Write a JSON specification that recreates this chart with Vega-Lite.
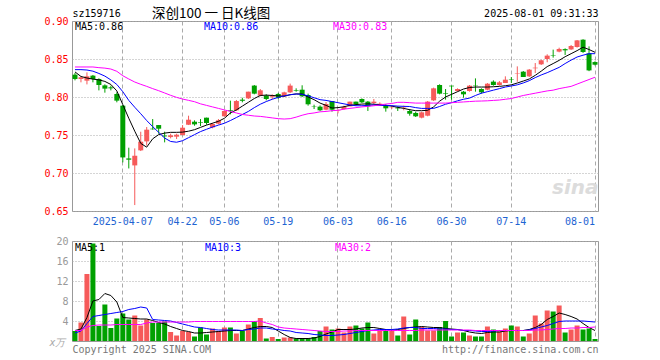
{
"$schema": "https://vega.github.io/schema/vega-lite/v6.json",
"background": "white",
"padding": {"left": 43, "top": 6, "right": 5, "bottom": 5},
"datasets": {"k": [
{"d":"03-25","o":0.8294,"h":0.8316,"l":0.8219,"c":0.8237,"v":2.0,"m5":0.833,"m10":0.836,"m30":0.8395,"v5":2.1,"v10":1.6,"v30":2.1},
{"d":"03-26","o":0.8237,"h":0.8268,"l":0.8193,"c":0.8259,"v":3.7,"m5":0.827,"m10":0.836,"m30":0.8395,"v5":2.4,"v10":2.0,"v30":2.1},
{"d":"03-27","o":0.8215,"h":0.8324,"l":0.8166,"c":0.8272,"v":13.4,"m5":0.825,"m10":0.8355,"m30":0.8395,"v5":4.7,"v10":3.5,"v30":2.8},
{"d":"03-28","o":0.8281,"h":0.829,"l":0.8193,"c":0.8237,"v":19.5,"m5":0.8235,"m10":0.834,"m30":0.8395,"v5":8.0,"v10":4.9,"v30":3.1},
{"d":"03-31","o":0.8237,"h":0.8246,"l":0.8087,"c":0.8158,"v":3.0,"m5":0.8225,"m10":0.831,"m30":0.8386,"v5":8.3,"v10":5.1,"v30":3.2},
{"d":"04-01","o":0.8153,"h":0.8167,"l":0.8057,"c":0.811,"v":7.3,"m5":0.8205,"m10":0.8275,"m30":0.838,"v5":9.5,"v10":5.3,"v30":3.2},
{"d":"04-02","o":0.8127,"h":0.8149,"l":0.8087,"c":0.8114,"v":2.6,"m5":0.8165,"m10":0.8225,"m30":0.8368,"v5":9.1,"v10":5.5,"v30":3.2},
{"d":"04-03","o":0.804,"h":0.8062,"l":0.793,"c":0.7952,"v":4.5,"m5":0.808,"m10":0.8165,"m30":0.8338,"v5":7.8,"v10":5.7,"v30":3.3},
{"d":"04-07","o":0.7886,"h":0.7895,"l":0.714,"c":0.7205,"v":5.5,"m5":0.79,"m10":0.807,"m30":0.828,"v5":4.7,"v10":5.9,"v30":3.3},
{"d":"04-08","o":0.7192,"h":0.7333,"l":0.706,"c":0.7175,"v":4.3,"m5":0.772,"m10":0.7955,"m30":0.8237,"v5":4.6,"v10":6.3,"v30":3.3},
{"d":"04-09","o":0.71,"h":0.7324,"l":0.6578,"c":0.7227,"v":5.1,"m5":0.755,"m10":0.7865,"m30":0.8197,"v5":4.5,"v10":6.5,"v30":3.3},
{"d":"04-10","o":0.7298,"h":0.7543,"l":0.7289,"c":0.7412,"v":3.1,"m5":0.739,"m10":0.778,"m30":0.8167,"v5":4.4,"v10":6.8,"v30":3.3},
{"d":"04-11","o":0.7416,"h":0.7605,"l":0.736,"c":0.757,"v":4.3,"m5":0.734,"m10":0.769,"m30":0.814,"v5":4.4,"v10":6.6,"v30":3.6},
{"d":"04-14","o":0.7583,"h":0.771,"l":0.757,"c":0.7575,"v":3.6,"m5":0.745,"m10":0.761,"m30":0.811,"v5":4.1,"v10":4.3,"v30":3.8},
{"d":"04-15","o":0.7631,"h":0.7631,"l":0.7517,"c":0.7583,"v":3.6,"m5":0.7505,"m10":0.7535,"m30":0.8083,"v5":3.7,"v10":4.2,"v30":3.8},
{"d":"04-16","o":0.7492,"h":0.7544,"l":0.7403,"c":0.7482,"v":3.9,"m5":0.7525,"m10":0.746,"m30":0.8053,"v5":3.4,"v10":4.1,"v30":3.8},
{"d":"04-17","o":0.7473,"h":0.7517,"l":0.7456,"c":0.7495,"v":1.8,"m5":0.7535,"m10":0.7415,"m30":0.8022,"v5":2.9,"v10":4.0,"v30":3.8},
{"d":"04-18","o":0.7478,"h":0.7517,"l":0.7447,"c":0.7504,"v":1.1,"m5":0.7535,"m10":0.7405,"m30":0.7995,"v5":2.5,"v10":3.7,"v30":3.8},
{"d":"04-22","o":0.75,"h":0.7631,"l":0.7495,"c":0.7596,"v":2.0,"m5":0.7538,"m10":0.7425,"m30":0.7973,"v5":2.1,"v10":3.4,"v30":3.8},
{"d":"04-23","o":0.7635,"h":0.7754,"l":0.7631,"c":0.7701,"v":1.8,"m5":0.755,"m10":0.7465,"m30":0.7956,"v5":1.9,"v10":3.1,"v30":3.8},
{"d":"04-24","o":0.7675,"h":0.7693,"l":0.7622,"c":0.764,"v":0.9,"m5":0.757,"m10":0.7505,"m30":0.7938,"v5":1.6,"v10":2.8,"v30":3.9},
{"d":"04-25","o":0.767,"h":0.771,"l":0.7618,"c":0.7662,"v":2.7,"m5":0.76,"m10":0.7545,"m30":0.791,"v5":1.6,"v10":2.7,"v30":3.9},
{"d":"04-28","o":0.7728,"h":0.7728,"l":0.7636,"c":0.7658,"v":1.3,"m5":0.763,"m10":0.7575,"m30":0.789,"v5":1.7,"v10":2.5,"v30":3.9},
{"d":"04-29","o":0.76,"h":0.7658,"l":0.7588,"c":0.7645,"v":2.5,"m5":0.7655,"m10":0.7605,"m30":0.787,"v5":1.8,"v10":2.3,"v30":3.9},
{"d":"04-30","o":0.7649,"h":0.771,"l":0.764,"c":0.7693,"v":2.0,"m5":0.768,"m10":0.763,"m30":0.785,"v5":1.9,"v10":2.2,"v30":3.9},
{"d":"05-06","o":0.7746,"h":0.7825,"l":0.7741,"c":0.7816,"v":2.7,"m5":0.772,"m10":0.7655,"m30":0.783,"v5":2.0,"v10":2.2,"v30":3.9},
{"d":"05-07","o":0.7825,"h":0.7952,"l":0.7772,"c":0.7816,"v":2.7,"m5":0.779,"m10":0.769,"m30":0.781,"v5":2.1,"v10":2.2,"v30":3.9},
{"d":"05-08","o":0.7825,"h":0.7961,"l":0.7816,"c":0.7947,"v":1.5,"m5":0.783,"m10":0.773,"m30":0.779,"v5":2.1,"v10":2.2,"v30":3.9},
{"d":"05-09","o":0.7965,"h":0.799,"l":0.793,"c":0.795,"v":2.0,"m5":0.788,"m10":0.777,"m30":0.777,"v5":2.1,"v10":2.1,"v30":3.9},
{"d":"05-12","o":0.7982,"h":0.807,"l":0.7974,"c":0.807,"v":3.3,"m5":0.793,"m10":0.781,"m30":0.776,"v5":2.4,"v10":2.3,"v30":3.9},
{"d":"05-13","o":0.815,"h":0.8158,"l":0.8035,"c":0.8044,"v":4.0,"m5":0.798,"m10":0.786,"m30":0.775,"v5":2.7,"v10":2.4,"v30":3.9},
{"d":"05-14","o":0.8018,"h":0.8105,"l":0.8009,"c":0.8088,"v":4.6,"m5":0.802,"m10":0.7905,"m30":0.7745,"v5":2.9,"v10":2.6,"v30":4.0},
{"d":"05-15","o":0.8018,"h":0.8035,"l":0.7956,"c":0.7974,"v":0.5,"m5":0.8025,"m10":0.794,"m30":0.7735,"v5":2.9,"v10":2.6,"v30":3.6},
{"d":"05-16","o":0.8,"h":0.8035,"l":0.7974,"c":0.801,"v":0.8,"m5":0.802,"m10":0.797,"m30":0.7725,"v5":2.7,"v10":2.4,"v30":3.3},
{"d":"05-19","o":0.804,"h":0.8053,"l":0.7974,"c":0.799,"v":0.4,"m5":0.8015,"m10":0.7995,"m30":0.7715,"v5":2.0,"v10":2.3,"v30":2.8},
{"d":"05-20","o":0.8009,"h":0.807,"l":0.8,"c":0.8061,"v":0.7,"m5":0.801,"m10":0.8015,"m30":0.771,"v5":1.3,"v10":2.1,"v30":2.6},
{"d":"05-21","o":0.8061,"h":0.8176,"l":0.8053,"c":0.815,"v":0.7,"m5":0.803,"m10":0.803,"m30":0.7715,"v5":0.7,"v10":2.0,"v30":2.5},
{"d":"05-22","o":0.8092,"h":0.8114,"l":0.807,"c":0.8084,"v":0.5,"m5":0.804,"m10":0.804,"m30":0.7735,"v5":0.5,"v10":1.7,"v30":2.4},
{"d":"05-23","o":0.8096,"h":0.8154,"l":0.8,"c":0.8009,"v":0.6,"m5":0.804,"m10":0.8035,"m30":0.776,"v5":0.5,"v10":1.6,"v30":2.3},
{"d":"05-26","o":0.8026,"h":0.8044,"l":0.7886,"c":0.7904,"v":0.5,"m5":0.8,"m10":0.8015,"m30":0.778,"v5":0.5,"v10":1.5,"v30":2.2},
{"d":"05-27","o":0.788,"h":0.7899,"l":0.7842,"c":0.7875,"v":0.8,"m5":0.7965,"m10":0.799,"m30":0.779,"v5":0.6,"v10":1.3,"v30":2.1},
{"d":"05-28","o":0.7873,"h":0.789,"l":0.7816,"c":0.7825,"v":2.0,"m5":0.792,"m10":0.7965,"m30":0.7805,"v5":0.9,"v10":1.2,"v30":2.0},
{"d":"05-29","o":0.7833,"h":0.7934,"l":0.7825,"c":0.7908,"v":2.9,"m5":0.789,"m10":0.7955,"m30":0.781,"v5":1.4,"v10":1.1,"v30":1.9},
{"d":"05-30","o":0.7947,"h":0.7947,"l":0.7807,"c":0.7833,"v":2.3,"m5":0.7855,"m10":0.794,"m30":0.782,"v5":1.8,"v10":1.1,"v30":1.9},
{"d":"06-03","o":0.782,"h":0.7838,"l":0.7785,"c":0.7825,"v":2.5,"m5":0.786,"m10":0.7925,"m30":0.7825,"v5":2.3,"v10":1.2,"v30":1.9},
{"d":"06-04","o":0.7842,"h":0.7886,"l":0.7833,"c":0.7868,"v":1.7,"m5":0.7872,"m10":0.791,"m30":0.784,"v5":2.3,"v10":1.3,"v30":2.0},
{"d":"06-05","o":0.7877,"h":0.7939,"l":0.7877,"c":0.7939,"v":2.9,"m5":0.789,"m10":0.7895,"m30":0.785,"v5":2.3,"v10":1.5,"v30":2.0},
{"d":"06-06","o":0.7939,"h":0.7939,"l":0.7886,"c":0.7904,"v":3.1,"m5":0.79,"m10":0.7885,"m30":0.786,"v5":2.4,"v10":1.7,"v30":2.1},
{"d":"06-09","o":0.7974,"h":0.7982,"l":0.7921,"c":0.793,"v":2.5,"m5":0.7907,"m10":0.7885,"m30":0.787,"v5":2.6,"v10":1.9,"v30":2.1},
{"d":"06-10","o":0.7939,"h":0.7947,"l":0.7816,"c":0.7877,"v":3.7,"m5":0.791,"m10":0.789,"m30":0.7877,"v5":2.7,"v10":2.1,"v30":2.1},
{"d":"06-11","o":0.7921,"h":0.7974,"l":0.7904,"c":0.7939,"v":1.5,"m5":0.7905,"m10":0.7895,"m30":0.7885,"v5":2.7,"v10":2.2,"v30":2.1},
{"d":"06-12","o":0.7895,"h":0.793,"l":0.7886,"c":0.7912,"v":2.1,"m5":0.79,"m10":0.789,"m30":0.7895,"v5":2.5,"v10":2.3,"v30":2.1},
{"d":"06-13","o":0.7886,"h":0.7904,"l":0.7807,"c":0.7851,"v":2.4,"m5":0.789,"m10":0.789,"m30":0.7907,"v5":2.3,"v10":2.3,"v30":2.1},
{"d":"06-16","o":0.7855,"h":0.7868,"l":0.7842,"c":0.786,"v":2.3,"m5":0.788,"m10":0.7886,"m30":0.7915,"v5":2.1,"v10":2.3,"v30":2.1},
{"d":"06-17","o":0.786,"h":0.7877,"l":0.7816,"c":0.785,"v":1.1,"m5":0.7864,"m10":0.788,"m30":0.793,"v5":2.3,"v10":2.4,"v30":2.1},
{"d":"06-18","o":0.7855,"h":0.7886,"l":0.7825,"c":0.786,"v":4.9,"m5":0.785,"m10":0.7877,"m30":0.793,"v5":2.5,"v10":2.6,"v30":2.1},
{"d":"06-19","o":0.7816,"h":0.7842,"l":0.7754,"c":0.778,"v":1.3,"m5":0.7833,"m10":0.7875,"m30":0.7925,"v5":2.7,"v10":2.7,"v30":2.1},
{"d":"06-20","o":0.779,"h":0.7807,"l":0.7737,"c":0.7746,"v":4.3,"m5":0.782,"m10":0.786,"m30":0.792,"v5":2.8,"v10":2.7,"v30":2.1},
{"d":"06-23","o":0.7728,"h":0.7807,"l":0.7719,"c":0.7798,"v":2.8,"m5":0.782,"m10":0.785,"m30":0.792,"v5":2.9,"v10":2.5,"v30":2.2},
{"d":"06-24","o":0.7754,"h":0.7947,"l":0.7746,"c":0.7939,"v":2.1,"m5":0.7825,"m10":0.785,"m30":0.792,"v5":2.8,"v10":2.5,"v30":2.2},
{"d":"06-25","o":0.7956,"h":0.8123,"l":0.7947,"c":0.8114,"v":2.1,"m5":0.787,"m10":0.785,"m30":0.792,"v5":2.7,"v10":2.5,"v30":2.2},
{"d":"06-26","o":0.8158,"h":0.8167,"l":0.8035,"c":0.8044,"v":2.8,"m5":0.7945,"m10":0.7875,"m30":0.792,"v5":2.7,"v10":2.4,"v30":2.2},
{"d":"06-27","o":0.8048,"h":0.8105,"l":0.7965,"c":0.804,"v":4.0,"m5":0.8,"m10":0.7905,"m30":0.792,"v5":2.5,"v10":2.4,"v30":2.2},
{"d":"06-30","o":0.8149,"h":0.8149,"l":0.7965,"c":0.814,"v":0.9,"m5":0.8035,"m10":0.7925,"m30":0.7925,"v5":2.4,"v10":2.3,"v30":2.2},
{"d":"07-01","o":0.8079,"h":0.8114,"l":0.807,"c":0.8105,"v":1.7,"m5":0.807,"m10":0.795,"m30":0.793,"v5":2.3,"v10":2.3,"v30":2.2},
{"d":"07-02","o":0.807,"h":0.8079,"l":0.7991,"c":0.8035,"v":1.7,"m5":0.8105,"m10":0.797,"m30":0.7935,"v5":2.1,"v10":2.1,"v30":2.2},
{"d":"07-03","o":0.8079,"h":0.8158,"l":0.807,"c":0.8149,"v":1.1,"m5":0.8125,"m10":0.7985,"m30":0.794,"v5":1.8,"v10":2.1,"v30":2.2},
{"d":"07-04","o":0.815,"h":0.8245,"l":0.807,"c":0.8145,"v":0.9,"m5":0.8131,"m10":0.802,"m30":0.7945,"v5":1.6,"v10":2.0,"v30":2.1},
{"d":"07-07","o":0.8105,"h":0.8114,"l":0.8044,"c":0.8061,"v":0.9,"m5":0.8131,"m10":0.805,"m30":0.7947,"v5":1.5,"v10":1.9,"v30":2.1},
{"d":"07-08","o":0.8096,"h":0.8184,"l":0.8088,"c":0.8175,"v":2.9,"m5":0.8131,"m10":0.807,"m30":0.795,"v5":1.7,"v10":1.9,"v30":2.1},
{"d":"07-09","o":0.8202,"h":0.8219,"l":0.8149,"c":0.8158,"v":2.3,"m5":0.8135,"m10":0.809,"m30":0.7955,"v5":1.8,"v10":2.0,"v30":2.1},
{"d":"07-10","o":0.8158,"h":0.821,"l":0.8149,"c":0.8193,"v":1.9,"m5":0.814,"m10":0.811,"m30":0.796,"v5":1.8,"v10":2.1,"v30":2.1},
{"d":"07-11","o":0.8184,"h":0.8272,"l":0.8184,"c":0.8228,"v":2.5,"m5":0.8148,"m10":0.8131,"m30":0.797,"v5":2.0,"v10":2.1,"v30":2.1},
{"d":"07-14","o":0.823,"h":0.8263,"l":0.8184,"c":0.8224,"v":3.1,"m5":0.816,"m10":0.8145,"m30":0.798,"v5":2.1,"v10":2.1,"v30":2.1},
{"d":"07-15","o":0.831,"h":0.8403,"l":0.8201,"c":0.8316,"v":2.9,"m5":0.8184,"m10":0.816,"m30":0.8,"v5":2.1,"v10":2.1,"v30":2.1},
{"d":"07-16","o":0.8333,"h":0.8342,"l":0.8263,"c":0.8263,"v":0.9,"m5":0.821,"m10":0.8185,"m30":0.802,"v5":2.1,"v10":2.1,"v30":2.1},
{"d":"07-17","o":0.8272,"h":0.8368,"l":0.8263,"c":0.836,"v":1.5,"m5":0.8237,"m10":0.8215,"m30":0.8035,"v5":2.3,"v10":2.2,"v30":2.1},
{"d":"07-18","o":0.8378,"h":0.8447,"l":0.8316,"c":0.8386,"v":5.1,"m5":0.8285,"m10":0.8255,"m30":0.805,"v5":2.7,"v10":2.5,"v30":2.2},
{"d":"07-21","o":0.843,"h":0.8491,"l":0.8421,"c":0.8483,"v":3.5,"m5":0.834,"m10":0.829,"m30":0.8065,"v5":3.3,"v10":2.8,"v30":2.2},
{"d":"07-22","o":0.85,"h":0.8562,"l":0.8457,"c":0.8544,"v":6.1,"m5":0.84,"m10":0.832,"m30":0.808,"v5":4.3,"v10":3.1,"v30":2.3},
{"d":"07-23","o":0.8546,"h":0.8623,"l":0.8518,"c":0.854,"v":5.9,"m5":0.844,"m10":0.8355,"m30":0.809,"v5":4.9,"v10":3.5,"v30":2.4},
{"d":"07-24","o":0.8597,"h":0.8649,"l":0.8588,"c":0.8632,"v":7.1,"m5":0.8482,"m10":0.839,"m30":0.811,"v5":5.6,"v10":3.9,"v30":2.5},
{"d":"07-25","o":0.863,"h":0.864,"l":0.8553,"c":0.8614,"v":1.7,"m5":0.853,"m10":0.844,"m30":0.8125,"v5":5.3,"v10":4.0,"v30":2.5},
{"d":"07-28","o":0.8626,"h":0.8684,"l":0.862,"c":0.8671,"v":2.3,"m5":0.857,"m10":0.8485,"m30":0.814,"v5":4.9,"v10":4.0,"v30":2.6},
{"d":"07-29","o":0.8658,"h":0.875,"l":0.865,"c":0.8745,"v":3.1,"m5":0.861,"m10":0.8526,"m30":0.817,"v5":4.4,"v10":4.0,"v30":2.6},
{"d":"07-30","o":0.8754,"h":0.876,"l":0.858,"c":0.8592,"v":2.3,"m5":0.8655,"m10":0.855,"m30":0.82,"v5":3.5,"v10":4.0,"v30":2.7},
{"d":"07-31","o":0.8574,"h":0.8666,"l":0.834,"c":0.835,"v":2.5,"m5":0.8625,"m10":0.857,"m30":0.823,"v5":2.7,"v10":3.9,"v30":2.7},
{"d":"08-01","o":0.846,"h":0.847,"l":0.8415,"c":0.8425,"v":0.4,"m5":0.8588,"m10":0.857,"m30":0.826,"v5":2.1,"v10":3.8,"v30":2.8}
]},
"data": {"name": "k"},
"config": {
  "font": "DejaVu Sans Mono",
  "view": {"stroke": "#999999", "strokeWidth": 1},
  "axis": {"labelFont": "DejaVu Sans Mono", "labelFontSize": 10, "titleFont": "DejaVu Sans Mono", "titleFontSize": 10, "titleFontWeight": "normal", "tickSize": 0, "domain": false, "gridColor": "#aaaaaa", "gridOpacity": 1},
  "legend": {"labelFont": "DejaVu Sans Mono", "labelFontSize": 10},
  "concat": {"spacing": 8}
},
"resolve": {"scale": {"color": "independent"}, "legend": {"color": "independent"}},
"vconcat": [
{
  "width": 526, "height": 190,
  "title": {"text": "深创100 一 日K线图", "anchor": "start", "frame": "group", "dx": 80, "dy": 14, "font": "Noto Sans CJK SC", "fontSize": 13.5, "fontWeight": "normal", "color": "#000000", "offset": 2},
  "resolve": {"axis": {"x": "independent"}},
  "layer": [
    {
      "mark": {"type": "rule", "strokeWidth": 1},
      "encoding": {
        "x": {"field": "d", "type": "ordinal", "sort": null, "scale": {"type": "band", "paddingInner": 0, "paddingOuter": 0},
          "axis": {"values": ["04-07","04-22","05-06","05-19","06-03","06-16","06-30","07-14","08-01"], "labelExpr": "datum.value == '04-07' ? '2025-04-07' : datum.value", "labelColor": "#1e64d2", "labelAngle": 0, "labelPadding": 5, "labelFlush": 12, "labelOverlap": false, "grid": true, "gridDash": [4,3], "title": "2025-08-01 09:31:33", "titleX": 526, "titleY": -194.6, "titleAlign": "right", "titleBaseline": "alphabetic", "titleColor": "#000000"}},
        "y": {"field": "l", "type": "quantitative", "scale": {"domain": [0.65, 0.9], "nice": false, "zero": false},
          "axis": {"values": [0.65,0.7,0.75,0.8,0.85,0.9], "format": ".2f", "labelColor": "#ff0000", "labelPadding": 4, "grid": true, "gridDash": [1,2], "title": "sz159716", "titleAngle": 0, "titleX": 0, "titleY": -4.6, "titleAlign": "left", "titleBaseline": "alphabetic", "titleColor": "#000000"}},
        "y2": {"field": "h"},
        "color": {"condition": {"test": "datum.c >= datum.o", "value": "#f65a5a"}, "value": "#00a000"}
      }
    },
    {
      "mark": {"type": "bar", "width": 5},
      "encoding": {
        "x": {"field": "d", "type": "ordinal", "sort": null, "axis": null},
        "y": {"field": "o", "type": "quantitative", "scale": {"domain": [0.65, 0.9], "nice": false, "zero": false},
          "axis": {"values": [0.65,0.7,0.75,0.8,0.85,0.9], "format": ".2f", "labelColor": "#ff0000", "labelPadding": 4, "grid": true, "gridDash": [1,2], "title": "sz159716", "titleAngle": 0, "titleX": 0, "titleY": -4.6, "titleAlign": "left", "titleBaseline": "alphabetic", "titleColor": "#000000"}},
        "y2": {"field": "c"},
        "color": {"condition": {"test": "datum.c >= datum.o", "value": "#f65a5a"}, "value": "#00a000"}
      }
    },
    {
      "transform": [{"fold": ["m5","m10","m30"], "as": ["ma","val"]}],
      "mark": {"type": "line", "strokeWidth": 1, "interpolate": "linear"},
      "encoding": {
        "x": {"field": "d", "type": "ordinal", "sort": null, "axis": {"labels": false, "grid": false, "ticks": false, "title": "sina", "titleX": 526, "titleY": -18, "titleAlign": "right", "titleBaseline": "alphabetic", "titleFont": "DejaVu Sans", "titleFontSize": 20, "titleFontWeight": "bold", "titleFontStyle": "italic", "titleColor": "#dcdcdc", "orient": "bottom"}},
        "y": {"field": "val", "type": "quantitative", "scale": {"domain": [0.65, 0.9], "nice": false, "zero": false},
          "axis": {"values": [0.65,0.7,0.75,0.8,0.85,0.9], "format": ".2f", "labelColor": "#ff0000", "labelPadding": 4, "grid": true, "gridDash": [1,2], "title": "sz159716", "titleAngle": 0, "titleX": 0, "titleY": -4.6, "titleAlign": "left", "titleBaseline": "alphabetic", "titleColor": "#000000"}},
        "color": {"field": "ma", "type": "nominal", "scale": {"domain": ["m5","m10","m30"], "range": ["#000000","#0000ff","#ff00ff"]},
          "legend": {"orient": "none", "legendX": -7, "legendY": 1, "direction": "horizontal", "columns": 3, "title": null, "symbolSize": 0, "symbolOpacity": 0, "symbolStrokeWidth": 0, "labelOffset": 0, "columnPadding": 64, "gridAlign": "all", "padding": 0,
            "labelExpr": "datum.value == 'm5' ? 'MA5:0.86' : datum.value == 'm10' ? 'MA10:0.86' : 'MA30:0.83'",
            "labelColor": {"expr": "datum.value == 'm5' ? '#000000' : datum.value == 'm10' ? '#0000ff' : '#ff00ff'"}}}
      }
    }
  ]
},
{
  "width": 526, "height": 100,
  "resolve": {"axis": {"x": "independent"}},
  "layer": [
    {
      "mark": {"type": "bar", "width": 5},
      "encoding": {
        "x": {"field": "d", "type": "ordinal", "sort": null, "scale": {"type": "band", "paddingInner": 0, "paddingOuter": 0},
          "axis": {"values": ["04-07","04-22","05-06","05-19","06-03","06-16","06-30","07-14","08-01"], "labels": false, "grid": true, "gridDash": [4,3], "title": "Copyright 2025 SINA.COM", "titleX": 0, "titleY": 11, "titleAlign": "left", "titleBaseline": "alphabetic", "titleColor": "#777777"}},
        "y": {"field": "v", "type": "quantitative", "scale": {"domain": [0, 20], "nice": false},
          "axis": {"values": [4,8,12,16,20], "labelColor": "#999999", "labelPadding": 4, "grid": true, "gridDash": [1,2], "title": "x万", "titleAngle": 0, "titleX": -7, "titleY": 101.5, "titleAlign": "right", "titleBaseline": "middle", "titleColor": "#aaaaaa", "titleFontStyle": "italic"}},
        "color": {"condition": {"test": "datum.c >= datum.o", "value": "#f65a5a"}, "value": "#00a000"}
      }
    },
    {
      "transform": [{"fold": ["v5","v10","v30"], "as": ["ma","val"]}],
      "mark": {"type": "line", "strokeWidth": 1},
      "encoding": {
        "x": {"field": "d", "type": "ordinal", "sort": null, "axis": {"labels": false, "grid": false, "ticks": false, "orient": "bottom", "title": "http://finance.sina.com.cn", "titleX": 526, "titleY": 11, "titleAlign": "right", "titleBaseline": "alphabetic", "titleColor": "#777777"}},
        "y": {"field": "val", "type": "quantitative", "scale": {"domain": [0, 20], "nice": false},
          "axis": {"values": [4,8,12,16,20], "labelColor": "#999999", "labelPadding": 4, "grid": true, "gridDash": [1,2], "title": "x万", "titleAngle": 0, "titleX": -7, "titleY": 101.5, "titleAlign": "right", "titleBaseline": "middle", "titleColor": "#aaaaaa", "titleFontStyle": "italic"}},
        "color": {"field": "ma", "type": "nominal", "scale": {"domain": ["v5","v10","v30"], "range": ["#000000","#0000ff","#ff00ff"]},
          "legend": {"orient": "none", "legendX": -7, "legendY": 2, "direction": "horizontal", "columns": 3, "title": null, "symbolSize": 0, "symbolOpacity": 0, "symbolStrokeWidth": 0, "labelOffset": 0, "columnPadding": 83, "gridAlign": "all", "padding": 0,
            "labelExpr": "datum.value == 'v5' ? 'MA5:1' : datum.value == 'v10' ? 'MA10:3' : 'MA30:2'",
            "labelColor": {"expr": "datum.value == 'v5' ? '#000000' : datum.value == 'v10' ? '#0000ff' : '#ff00ff'"}}}
      }
    }
  ]
}
]
}
